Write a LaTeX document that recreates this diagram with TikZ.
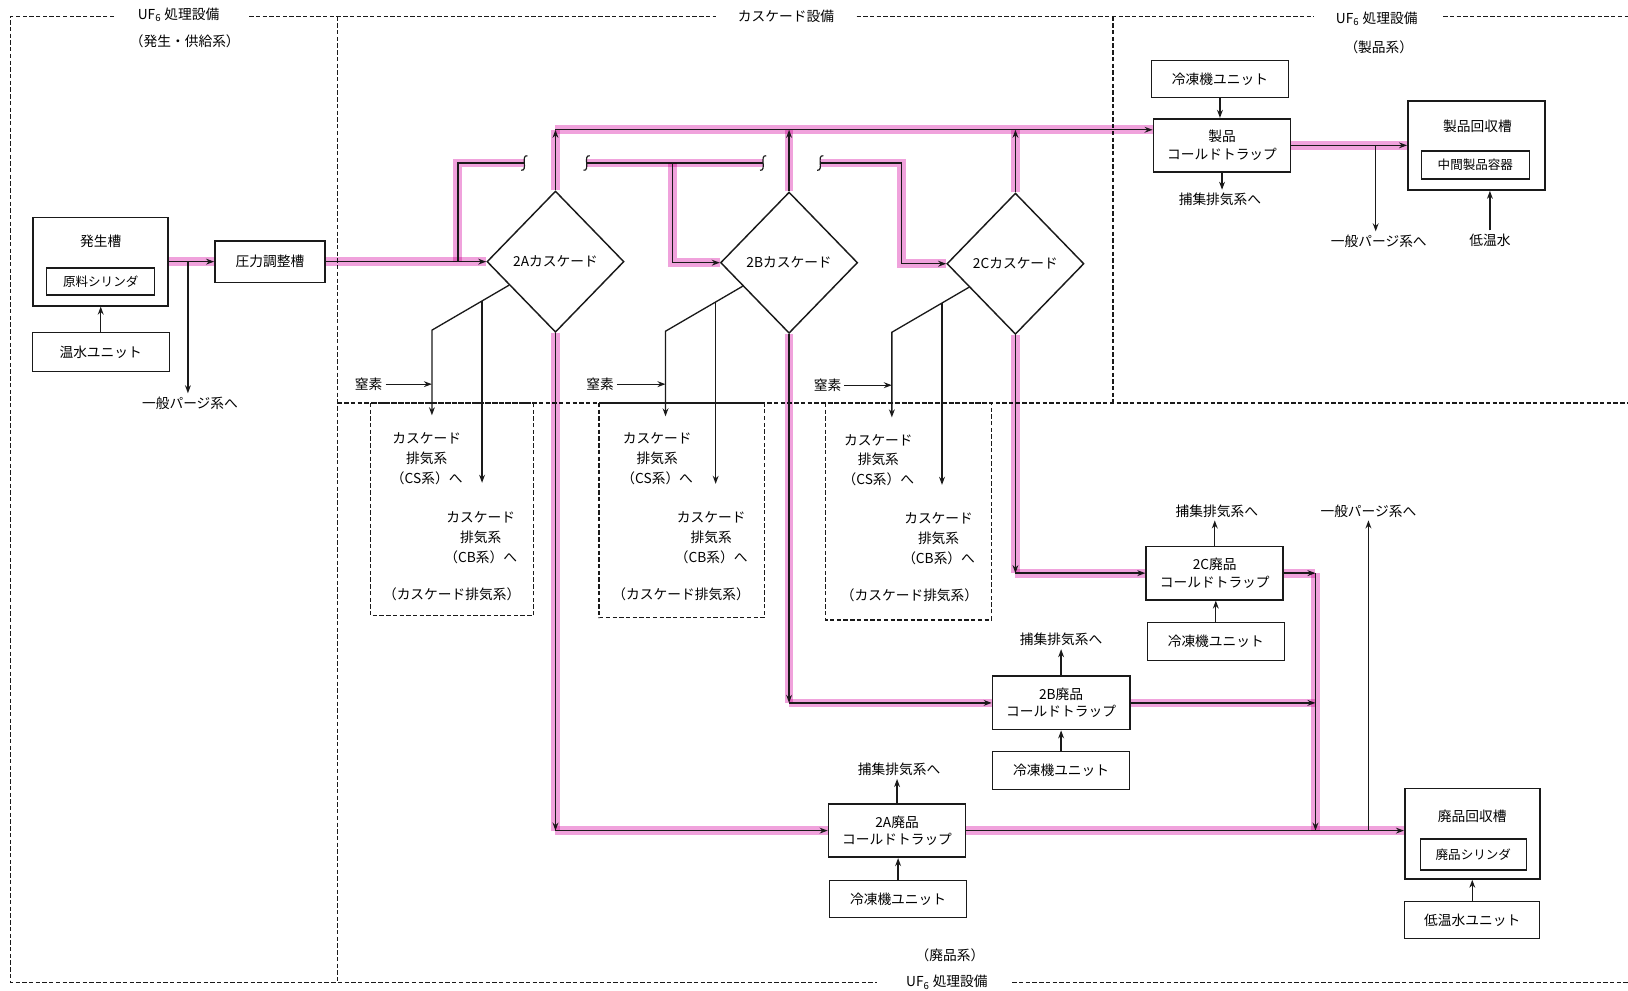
\documentclass[tikz,border=0pt]{standalone}
\usepackage{fontspec}
\setmainfont{Noto Sans CJK JP}
\usepackage{tikz}
\usetikzlibrary{arrows.meta,positioning,shapes.geometric,calc}
\definecolor{ink}{HTML}{1A1A1A}
\definecolor{hilite}{HTML}{F0A2DC}
\newcommand{\diagfont}{\fontsize{9.4}{13.5}\selectfont}
\newcommand{\trapfont}{\fontsize{9.4}{12}\selectfont}
\newcommand{\innerfont}{\fontsize{8.6}{10}\selectfont}
\tikzset{
  zone/.style={draw=ink,line width=0.9pt,dash pattern=on 3pt off 1.6pt},
  unitbox/.style={draw=ink,line width=0.7pt,minimum width=3.3cm,minimum height=0.9cm,
                  inner sep=2pt,font=\diagfont},
  trapbox/.style={draw=ink,line width=1.2pt,minimum width=3.3cm,minimum height=1.28cm,
                  align=center,inner sep=2pt,font=\trapfont},
  tankbox/.style={draw=ink,line width=1.1pt,minimum width=3.3cm,minimum height=2.15cm,
                  inner sep=0pt},
  inbox/.style={draw=ink,line width=1.0pt,minimum width=2.6cm,minimum height=0.7cm,
                inner sep=2pt,font=\innerfont},
  cascade/.style={draw=ink,diamond,line width=1.0pt,minimum width=3.3cm,minimum height=3.4cm,
                  inner sep=0pt,font=\diagfont},
  tag/.style={font=\diagfont,align=center,inner sep=2pt},
  flowarr/.style={-{Stealth[length=5.5pt,width=4pt]},line width=0.9pt,draw=ink},
  pipe/.style={line width=0.9pt,draw=ink,
               preaction={draw=hilite,line width=6pt,arrows=-,blend mode=multiply}},
  brk/.pic={\draw[line width=0.8pt,draw=ink] (3,-7) .. controls (-4,-8) and (4,8) .. (-3,7);}
}
\begin{document}
\begin{tikzpicture}[x=0.025cm,y=-0.025cm]
  \useasboundingbox (0,0) rectangle (1568,954);
  % zones
  \draw[zone] (110,16) -- (10,16) -- (10,946) -- (845,946);
  \draw[zone] (240,16) -- (690,16);
  \draw[zone] (825,16) -- (1265,16);
  \draw[zone] (1390,16) -- (1568,16);
  \draw[zone] (975,946) -- (1568,946);
  \draw[zone] (325,16) -- (325,946);
  \draw[zone] (1072,16) -- (1072,388);
  \draw[zone] (325,388) -- (1568,388);
  \node[tag] (zgen) at (172,14) {UF\textsubscript{6} 処理設備};
  \node[tag] (zgensub) at (178,40) {（発生・供給系）};
  \node[tag] (zcas) at (757,16) {カスケード設備};
  \node[tag] (zprod) at (1326,18) {UF\textsubscript{6} 処理設備};
  \node[tag] (zprodsub) at (1328,46) {（製品系）};
  \node[tag] (zwaste) at (912,946) {UF\textsubscript{6} 処理設備};
  \node[tag] (zwastesub) at (915,920) {（廃品系）};

  % feed side
  \node[tankbox,minimum width=3.25cm,minimum height=2.125cm] (gen) at (97,252) {};
  \node[tag] (genlbl) at (97,232) {発生槽};
  \node[inbox,minimum height=0.65cm] (raw) at (97,271) {原料シリンダ};
  \node[unitbox,minimum height=0.95cm] (hotw) at (97,339) {温水ユニット};
  \node[unitbox,line width=1.1pt,minimum width=2.65cm,minimum height=1.0cm] (press) at (260,252) {圧力調整槽};
  \draw[flowarr] (hotw) -- (gen);
  \draw[pipe,flowarr] (gen) -- (press);
  \coordinate (pg1) at (181,252);
  \node[tag] (purge1) at (183,388) {一般パージ系へ};
  \draw[flowarr] (pg1) -- (pg1 |- purge1.north);

  % cascades
  \node[cascade] (casA) at (535,252) {2Aカスケード};
  \node[cascade] (casB) at (760,253) {2Bカスケード};
  \node[cascade] (casC) at (978,254) {2Cカスケード};
  \draw[pipe,flowarr] (press) -- (casA);
  \coordinate (fA) at (441,252);
  \coordinate (gA) at (505,157);
  \coordinate (gB1) at (565,157);
  \coordinate (gB2) at (735,157);
  \coordinate (fB) at (648,157);
  \coordinate (gC) at (790,157);
  \coordinate (fC) at (868,157);
  \draw[pipe] (fA) -- (fA |- gA) -- (gA);
  \draw[pipe] (gB1) -- (gB2);
  \draw[pipe,flowarr] (fB) -- (fB |- casB.west) -- (casB.west);
  \draw[pipe,flowarr] (gC) -- (fC) -- (fC |- casC.west) -- (casC.west);
  \pic at (gA) {brk};
  \pic at (gB1) {brk};
  \pic at (gB2) {brk};
  \pic at (gC) {brk};

  % product side
  \node[unitbox] (chillP) at (1175,76) {冷凍機ユニット};
  \node[trapbox] (trapP) at (1177,140) {製品\\コールドトラップ};
  \node[tag] (exP) at (1175,192) {捕集排気系へ};
  \coordinate (hA) at (535,125);
  \draw[pipe,flowarr] (hA) -- (hA -| trapP.west);
  \draw[pipe,flowarr] (casA.north) -- (hA);
  \draw[pipe,flowarr] (casB.north) -- (casB.north |- hA);
  \draw[pipe,flowarr] (casC.north) -- (casC.north |- hA);
  \draw[flowarr] (chillP.south) -- (chillP.south |- trapP.north);
  \draw[flowarr] (trapP.south) -- (trapP.south |- exP.north);
  \node[tankbox] (precv) at (1422,140) {};
  \node[tag] (precvlbl) at (1423,122) {製品回収槽};
  \node[inbox,minimum height=0.68cm] (pvessel) at (1421,159) {中間製品容器};
  \draw[pipe,flowarr] (trapP) -- (precv);
  \coordinate (pg3) at (1325,140);
  \node[tag] (purge3) at (1328,232) {一般パージ系へ};
  \draw[flowarr] (pg3) -- (pg3 |- purge3.north);
  \node[tag] (lowt) at (1435,231) {低温水};
  \draw[flowarr] (lowt) -- (lowt |- precv.south);

  % cascade exhaust 2A
  \coordinate (eA) at ($(casA.west)!0.33!(casA.south)$);
  \coordinate (sA) at (416,318);
  \coordinate (bA) at ($(eA)!0.35!(sA)$);
  \coordinate (sAend) at (416,400);
  \coordinate (bAend) at (bA |- 0,465);
  \node[tag] (nA) at (355,370) {窒素};
  \node[tag] (csA) at (411,442) {カスケード\\排気系\\（CS系）へ};
  \node[tag] (cbA) at (463,518) {カスケード\\排気系\\（CB系）へ};
  \node[tag] (cxA) at (435,572) {（カスケード排気系）};
  \draw[flowarr] (eA) -- (sA) -- (sAend);
  \draw[flowarr] (bA) -- (bAend);
  \draw[flowarr] (nA) -- (nA -| sA);
  \draw[zone] (357,388) rectangle (514,593);

  % cascade exhaust 2B
  \coordinate (eB) at ($(casB.west)!0.33!(casB.south)$);
  \coordinate (sB) at (641,319);
  \coordinate (bB) at ($(eB)!0.35!(sB)$);
  \coordinate (sBend) at (641,401);
  \coordinate (bBend) at (bB |- 0,466);
  \node[tag] (nB) at (578,370) {窒素};
  \node[tag] (csB) at (633,442) {カスケード\\排気系\\（CS系）へ};
  \node[tag] (cbB) at (685,518) {カスケード\\排気系\\（CB系）へ};
  \node[tag] (cxB) at (656,572) {（カスケード排気系）};
  \draw[flowarr] (eB) -- (sB) -- (sBend);
  \draw[flowarr] (bB) -- (bBend);
  \draw[flowarr] (nB) -- (nB -| sB);
  \draw[zone] (577,388) rectangle (736,595);

  % cascade exhaust 2C
  \coordinate (eC) at ($(casC.west)!0.33!(casC.south)$);
  \coordinate (sC) at (859,320);
  \coordinate (bC) at ($(eC)!0.35!(sC)$);
  \coordinate (sCend) at (859,402);
  \coordinate (bCend) at (bC |- 0,467);
  \node[tag] (nC) at (797,371) {窒素};
  \node[tag] (csC) at (846,443) {カスケード\\排気系\\（CS系）へ};
  \node[tag] (cbC) at (904,519) {カスケード\\排気系\\（CB系）へ};
  \node[tag] (cxC) at (876,573) {（カスケード排気系）};
  \draw[flowarr] (eC) -- (sC) -- (sCend);
  \draw[flowarr] (bC) -- (bCend);
  \draw[flowarr] (nC) -- (nC -| sC);
  \draw[zone] (795,388) rectangle (955,597);

  % waste side
  \node[trapbox] (trapC) at (1170,552) {2C廃品\\コールドトラップ};
  \node[unitbox] (chillC) at (1171,618) {冷凍機ユニット};
  \node[tag] (exC) at (1172,492) {捕集排気系へ};
  \node[trapbox] (trapB) at (1022,677) {2B廃品\\コールドトラップ};
  \node[unitbox] (chillB) at (1022,742) {冷凍機ユニット};
  \node[tag] (exB) at (1022,616) {捕集排気系へ};
  \node[trapbox] (trapA) at (864,800) {2A廃品\\コールドトラップ};
  \node[unitbox] (chillA) at (865,866) {冷凍機ユニット};
  \node[tag] (exA) at (866,741) {捕集排気系へ};
  \draw[flowarr] (chillC.north) -- (chillC.north |- trapC.south);
  \draw[flowarr] (trapC.north) -- (trapC.north |- exC.south);
  \draw[flowarr] (chillB) -- (trapB);
  \draw[flowarr] (trapB) -- (exB);
  \draw[flowarr] (chillA.north) -- (chillA.north |- trapA.south);
  \draw[flowarr] (trapA.north) -- (trapA.north |- exA.south);
  \coordinate (dA) at (535,800);
  \coordinate (dB) at (760,677);
  \coordinate (dC) at (978,552);
  \draw[pipe,flowarr] (casA.south) -- (dA);
  \draw[pipe,flowarr] (dA) -- (trapA);
  \draw[pipe,flowarr] (casB.south) -- (dB);
  \draw[pipe,flowarr] (dB) -- (trapB);
  \draw[pipe,flowarr] (casC.south) -- (dC);
  \draw[pipe,flowarr] (dC) -- (trapC);
  \node[tankbox,minimum width=3.25cm,minimum height=2.175cm] (wrecv) at (1418,803) {};
  \node[tag] (wrecvlbl) at (1418,786) {廃品回収槽};
  \node[inbox,minimum width=2.55cm,minimum height=0.75cm] (wcyl) at (1419,823) {廃品シリンダ};
  \node[unitbox,minimum width=3.25cm] (coldw) at (1418,886) {低温水ユニット};
  \draw[flowarr] (coldw) -- (wrecv);
  \coordinate (mC) at (1267,552);
  \coordinate (mB) at (1267,677);
  \coordinate (mA) at (1267,800);
  \draw[pipe,flowarr] (trapA) -- (trapA -| wrecv.west);
  \draw[pipe,flowarr] (trapC) -- (mC);
  \draw[pipe,flowarr] (trapB) -- (mB);
  \draw[pipe,flowarr] (mC) -- (mA);
  \coordinate (pg2) at (1318,800);
  \node[tag] (purge2) at (1318,492) {一般パージ系へ};
  \draw[flowarr] (pg2) -- (purge2);
\end{tikzpicture}
\end{document}
